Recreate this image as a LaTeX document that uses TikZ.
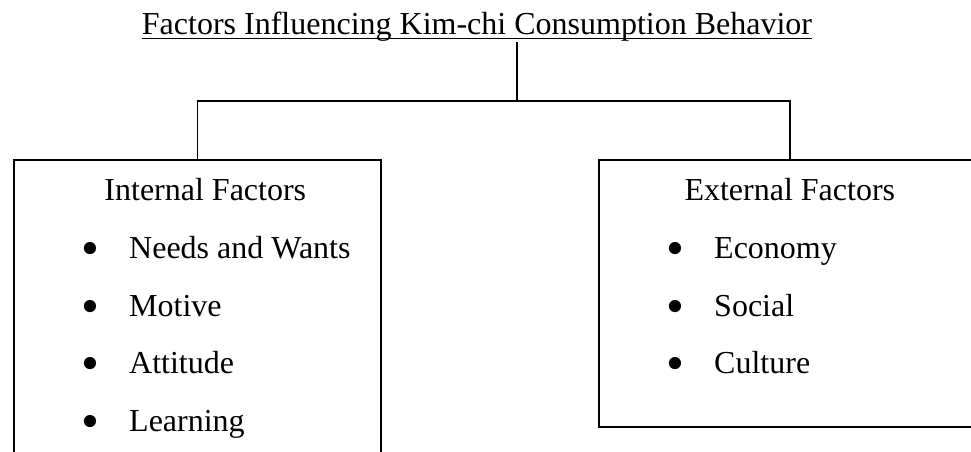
\documentclass[tikz,border=0pt]{standalone}
\usepackage{fontspec}
\usepackage{graphicx}
\setmainfont{Liberation Serif}
\usetikzlibrary{positioning}
\tikzset{
  x=1pt,
  y=1pt,
  every node/.style={
    font=\fontsize{32}{38}\selectfont,
    inner sep=0pt
  },
  group/.style={
    draw,
    line width=1.6pt,
    rectangle,
    anchor=north west
  },
  heading/.style={anchor=base},
  factor/.style={anchor=base west},
  link/.style={draw, line width=1.5pt}
}
\newcommand{\bullitem}[1]{\makebox[48pt][l]{\raisebox{-7pt}{\scalebox{1.6}{\textbullet}}}#1}

\begin{document}
\begin{tikzpicture}
  \useasboundingbox (0,0) rectangle (971,452);
  \clip (0,0) rectangle (971,452);

  \node[anchor=base] (title) at (477,417) {Factors Influencing Kim-chi Consumption Behavior};
  \draw[line width=1.9pt] ([yshift=-3.5pt]title.base west) -- ([yshift=-3.5pt]title.base east);

  \node[group, minimum width=367pt, minimum height=330pt] (internal) at (13,293) {};
  \node[group, minimum width=382pt, minimum height=267pt] (external) at (598,293) {};

  \coordinate (hub) at (517,351);
  \draw[link] (hub |- title.south) -- (hub);
  \draw[link] (internal.north) |- (hub) -| (external.north);

  \node[heading] (internal-head) at ([xshift=8pt,yshift=-42pt]internal.north) {Internal Factors};
  \node[factor] (needs) at ([xshift=68pt,yshift=-100pt]internal.north west) {\bullitem{Needs and Wants}};
  \node[factor] (motive) at ([yshift=-57.5pt]needs.base west) {\bullitem{Motive}};
  \node[factor] (attitude) at ([yshift=-57.5pt]motive.base west) {\bullitem{Attitude}};
  \node[factor] (learning) at ([yshift=-57.5pt]attitude.base west) {\bullitem{Learning}};

  \node[heading] (external-head) at ([yshift=-42pt]external.north) {External Factors};
  \node[factor] (economy) at ([xshift=68pt,yshift=-100pt]external.north west) {\bullitem{Economy}};
  \node[factor] (social) at ([yshift=-57.5pt]economy.base west) {\bullitem{Social}};
  \node[factor] (culture) at ([yshift=-57.5pt]social.base west) {\bullitem{Culture}};
\end{tikzpicture}
\end{document}
